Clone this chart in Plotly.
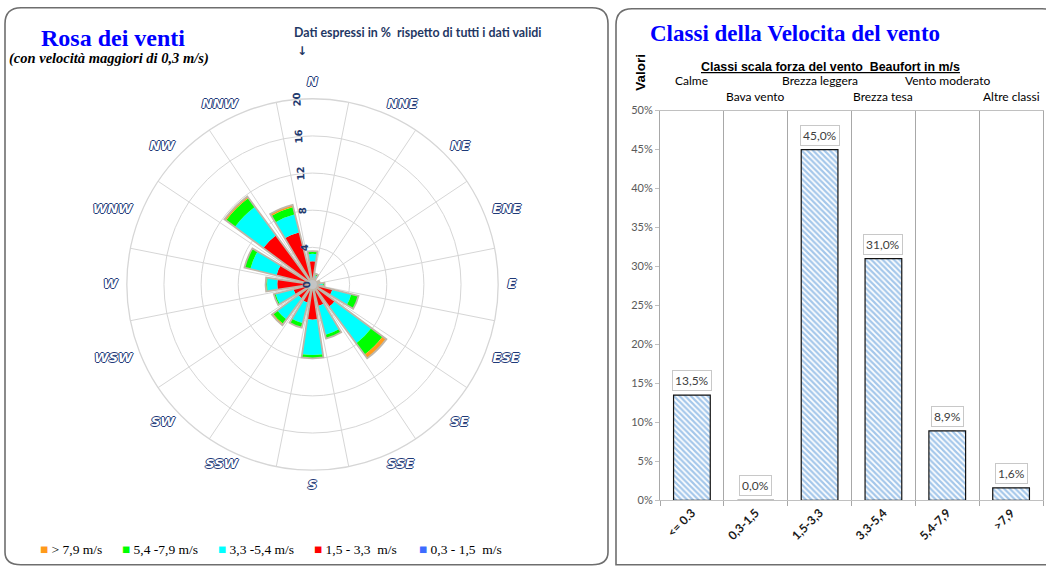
import plotly.graph_objects as go

W, H = 1046, 571

# ---------------- wind rose: frequency (%) by direction and speed class ----------------
directions = ["N", "NNE", "NE", "ENE", "E", "ESE", "SE", "SSE",
              "S", "SSW", "SW", "WSW", "W", "WNW", "NW", "NNW"]
dir_theta = [0, 22.5, 45, 67.5, 90, 112.5, 135, 157.5,
             180, 202.5, 225, 247.5, 270, 292.5, 315, 337.5]
sector_edges = [11.25, 33.75, 56.25, 78.75, 101.25, 123.75, 146.25, 168.75,
                191.25, 213.75, 236.25, 258.75, 281.25, 303.75, 326.25, 348.75]
radial_ticks = [0, 4, 8, 12, 16, 20]

speed_classes = ["0,3 - 1,5  m/s", "1,5 - 3,3  m/s", "3,3 -5,4 m/s", "5,4 -7,9 m/s", "> 7,9 m/s"]
class_colors = ["#3d6bff", "#ff0000", "#00ffff", "#00ff00", "#ff9a1a"]

freq_03_15 = [0.0, 0.0, 0.0, 0.0, 0.0, 0.0, 0.0, 0.0, 0.0, 0.0, 0.0, 0.0, 0.0, 0.0, 0.0, 0.0]
freq_15_33 = [2.5, 0.6, 0.3, 0.4, 0.6, 2.2, 3.0, 2.4, 3.8, 2.0, 1.9, 2.1, 3.8, 4.0, 6.6, 5.8]
freq_33_54 = [0.8, 0.4, 0.2, 0.3, 0.5, 2.1, 4.9, 3.2, 3.8, 2.3, 2.8, 2.0, 1.1, 2.9, 3.8, 2.0]
freq_54_79 = [0.3, 0.2, 0.0, 0.1, 0.2, 0.8, 1.5, 0.4, 0.35, 0.5, 0.6, 0.2, 0.1, 0.65, 1.2, 0.8]
freq_gt_79 = [0.0, 0.0, 0.0, 0.0, 0.0, 0.0, 0.5, 0.0, 0.0, 0.0, 0.15, 0.0, 0.05, 0.0, 0.2, 0.25]
rose_rows = [freq_03_15, freq_15_33, freq_33_54, freq_54_79, freq_gt_79]

# ---------------- speed class distribution (Beaufort) ----------------
beaufort_bins = ["<= 0.3", "0,3-1,5", "1,5-3,3", "3,3-5,4", "5,4-7,9", ">7,9"]
beaufort_names = ["Calme", "Bava vento", "Brezza leggera", "Brezza tesa", "Vento moderato", "Altre classi"]
class_share = [0.135, 0.0, 0.45, 0.31, 0.089, 0.016]
pct_ticks = [0, 0.05, 0.10, 0.15, 0.20, 0.25, 0.30, 0.35, 0.40, 0.45, 0.50]

# vertical placement helper: screen pixel -> paper fraction
Y_OFF, Y_SCALE = 6.3, 0.978


def px_x(x):
    return x / W


def px_y(y):
    return 1 - ((y - Y_OFF) / Y_SCALE) / H


def rounded_rect(x0, y0, x1, y1, r):
    """SVG path (paper coords) for a rounded rectangle given in screen pixels."""
    pts = [
        ("M", [(x0 + r, y0)]),
        ("L", [(x1 - r, y0)]), ("Q", [(x1, y0), (x1, y0 + r)]),
        ("L", [(x1, y1 - r)]), ("Q", [(x1, y1), (x1 - r, y1)]),
        ("L", [(x0 + r, y1)]), ("Q", [(x0, y1), (x0, y1 - r)]),
        ("L", [(x0, y0 + r)]), ("Q", [(x0, y0), (x0 + r, y0)]),
    ]
    out = []
    for cmd, coords in pts:
        out.append(cmd + " ".join(f"{px_x(a):.5f},{max(px_y(b), 0.0005):.5f}" for a, b in coords))
    return " ".join(out) + " Z"


fig = go.Figure()

# stacked rose sectors (each class starts where the previous one ends)
base = [0.0] * len(dir_theta)
for name, color, vals in zip(speed_classes, class_colors, rose_rows):
    fig.add_trace(go.Barpolar(
        r=vals, theta=dir_theta, base=base, width=17, name=name, showlegend=False,
        marker=dict(color=color, line=dict(width=0)),
        hoverinfo="skip", subplot="polar",
    ))
    base = [b + v for b, v in zip(base, vals)]
totals = base

# sector outline around each whole stack
fig.add_trace(go.Barpolar(
    r=totals, theta=dir_theta, width=17, showlegend=False,
    marker=dict(color="rgba(0,0,0,0)", line=dict(color="#bfb6a8", width=1.8)),
    hoverinfo="skip", subplot="polar",
))

# hub
fig.add_trace(go.Scatterpolar(
    r=[0], theta=[0], mode="markers", showlegend=False, hoverinfo="skip",
    marker=dict(color="#c4c4c4", size=9), subplot="polar",
))


# compass labels on a transparent overlay polar with a wider radial range,
# each label hanging outward from its direction
def label_side(t):
    if t == 0:
        return "top center"
    if t == 180:
        return "bottom center"
    return "middle right" if t < 180 else "middle left"


LABEL_RANGE = 23
outline = "#1f3a78"
fig.add_trace(go.Scatterpolar(
    r=[21.0] * len(directions), theta=dir_theta, mode="text", text=directions,
    textposition=[label_side(t) for t in dir_theta],
    textfont=dict(family="DejaVu Sans", size=13, color="white", weight="bold", style="italic",
                  shadow=f"1px 0 0 {outline}, -1px 0 0 {outline}, 0 1px 0 {outline}, 0 -1px 0 {outline}"),
    cliponaxis=False, showlegend=False, hoverinfo="skip", subplot="polar2",
))

# speed class bars
fig.add_trace(go.Bar(
    x=beaufort_bins, y=class_share, width=0.575, showlegend=False, hoverinfo="skip",
    marker=dict(color="#4a8fd6",
                pattern=dict(shape="\\", fgcolor="#4a8fd6", bgcolor="white", size=4, solidity=0.55),
                line=dict(color="#111111", width=1.2)),
    xaxis="x", yaxis="y",
))

cx, cy = 312.5, 284
R = 190.0                      # rose radius in layout pixels
R2 = R * LABEL_RANGE / 20

annotations = []

# value boxes above bars
for cat, v in zip(beaufort_bins, class_share):
    annotations.append(dict(
        x=cat, y=v, xref="x", yref="y", text=f"{v * 100:.1f}".replace(".", ",") + "%",
        showarrow=False, xanchor="center", yanchor="bottom", yshift=4,
        bordercolor="#c8c8c8", borderwidth=1, borderpad=2, bgcolor="white",
        font=dict(family="Lato", size=12, color="#404040"),
    ))

# Beaufort class names in two staggered rows
for i, (cat, nm) in enumerate(zip(beaufort_bins, beaufort_names)):
    annotations.append(dict(
        x=cat, y=px_y(80 if i % 2 == 0 else 96), xref="x", yref="paper", text=nm,
        showarrow=False, xanchor="center", yanchor="middle",
        font=dict(family="Lato", size=12, color="black"),
    ))

# legend row under the rose
legend_x = [38, 120, 216, 312, 417]
for xpos, name, color in zip(legend_x, speed_classes[::-1], class_colors[::-1]):
    annotations.append(dict(
        x=px_x(xpos), y=px_y(549), xref="paper", yref="paper", xanchor="left", yanchor="middle",
        text=f'<span style="color:{color}">■</span> {name.replace("  ", "&nbsp; ")}',
        showarrow=False, font=dict(family="Liberation Serif", size=13.5, color="black"),
    ))

annotations += [
    dict(x=px_x(113), y=px_y(37), text="Rosa dei venti", xanchor="center",
         font=dict(family="Liberation Serif", size=24, color="#0000ff", weight="bold")),
    dict(x=px_x(109), y=px_y(58), xanchor="center",
         text="(con velocità maggiori di 0,3 m/s)",
         font=dict(family="Liberation Serif", size=14.5, color="black", weight="bold", style="italic")),
    dict(x=px_x(292), y=px_y(32), xanchor="left",
         text="Dati espressi in %&nbsp; rispetto di tutti i dati validi",
         font=dict(family="Lato", size=12.4, color="#1f3864", weight="bold")),
    dict(x=px_x(295), y=px_y(50), xanchor="left", text="↓",
         font=dict(family="DejaVu Sans", size=12, color="#1f3864", weight="bold")),
    dict(x=px_x(795), y=px_y(33), xanchor="center", text="Classi della Velocita del vento",
         font=dict(family="Liberation Serif", size=23, color="#0000ff", weight="bold")),
    dict(x=px_x(641), y=px_y(72), xanchor="center", text="Valori", textangle=-90,
         font=dict(family="Liberation Sans", size=13.5, color="black", weight="bold")),
    dict(x=px_x(830), y=px_y(66), xanchor="center",
         text="<u>Classi scala forza del vento&nbsp; Beaufort in m/s</u>",
         font=dict(family="Liberation Sans", size=12.4, color="black", weight="bold")),
]
for a in annotations[-7:]:
    a.update(xref="paper", yref="paper", showarrow=False, yanchor="middle")

shapes = [
    dict(type="path", xref="paper", yref="paper", path=rounded_rect(5, 7, 608, 568, 16),
         line=dict(color="#6e6e6e", width=1.6)),
    dict(type="path", xref="paper", yref="paper", path=rounded_rect(616, 8, 1058, 584, 16),
         line=dict(color="#6e6e6e", width=1.6)),
]

cy_l = (cy - Y_OFF) / Y_SCALE  # rose centre in layout pixels
fig.update_layout(
    width=W, height=H, margin=dict(l=0, r=0, t=0, b=0),
    paper_bgcolor="white", plot_bgcolor="white",
    showlegend=False,
    polar=dict(
        domain=dict(x=[px_x(cx - R), px_x(cx + R)],
                    y=[1 - (cy_l + R) / H, 1 - (cy_l - R) / H]),
        bgcolor="white", barmode="overlay",
        angularaxis=dict(direction="clockwise", rotation=90, tickvals=sector_edges,
                         showticklabels=False, ticks="", showgrid=True, gridcolor="#d6d6d6",
                         gridwidth=1.2, showline=True, linecolor="#d6d6d6", linewidth=1.3),
        radialaxis=dict(range=[0, 20], tickvals=radial_ticks, showline=False, showgrid=True,
                        gridcolor="#d6d6d6", gridwidth=1.2, angle=93, tickangle=0, ticks="",
                        side="counterclockwise",
                        tickfont=dict(family="DejaVu Sans", size=10, color="#1f3a6e", weight="bold")),
    ),
    polar2=dict(
        domain=dict(x=[px_x(cx - R2), px_x(cx + R2)],
                    y=[1 - (cy_l + R2) / H, 1 - (cy_l - R2) / H]),
        bgcolor="rgba(0,0,0,0)",
        angularaxis=dict(direction="clockwise", rotation=90, visible=False, showgrid=False),
        radialaxis=dict(range=[0, LABEL_RANGE], visible=False, showgrid=False),
    ),
    xaxis=dict(domain=[px_x(660), px_x(1043)], anchor="y", type="category", tickson="boundaries",
               showgrid=True, gridcolor="#a8a8a8", gridwidth=1, ticks="outside", ticklen=5,
               tickcolor="#a8a8a8", tickangle=-45, showline=True, linecolor="#c0c0c0", mirror=True,
               tickfont=dict(family="Lato", size=12, color="#1a1a1a", weight="bold"), fixedrange=True),
    yaxis=dict(domain=[px_y(500), px_y(110)], anchor="x", range=[0, 0.5], tickvals=pct_ticks,
               tickformat=".0%", showgrid=False, zeroline=False, ticks="outside", ticklen=4,
               tickcolor="#c0c0c0", showline=True, linecolor="#a8a8a8", mirror=True,
               tickfont=dict(family="Lato", size=11, color="#595959"), fixedrange=True),
    annotations=annotations,
    shapes=shapes,
)

fig.write_html("out.html")
